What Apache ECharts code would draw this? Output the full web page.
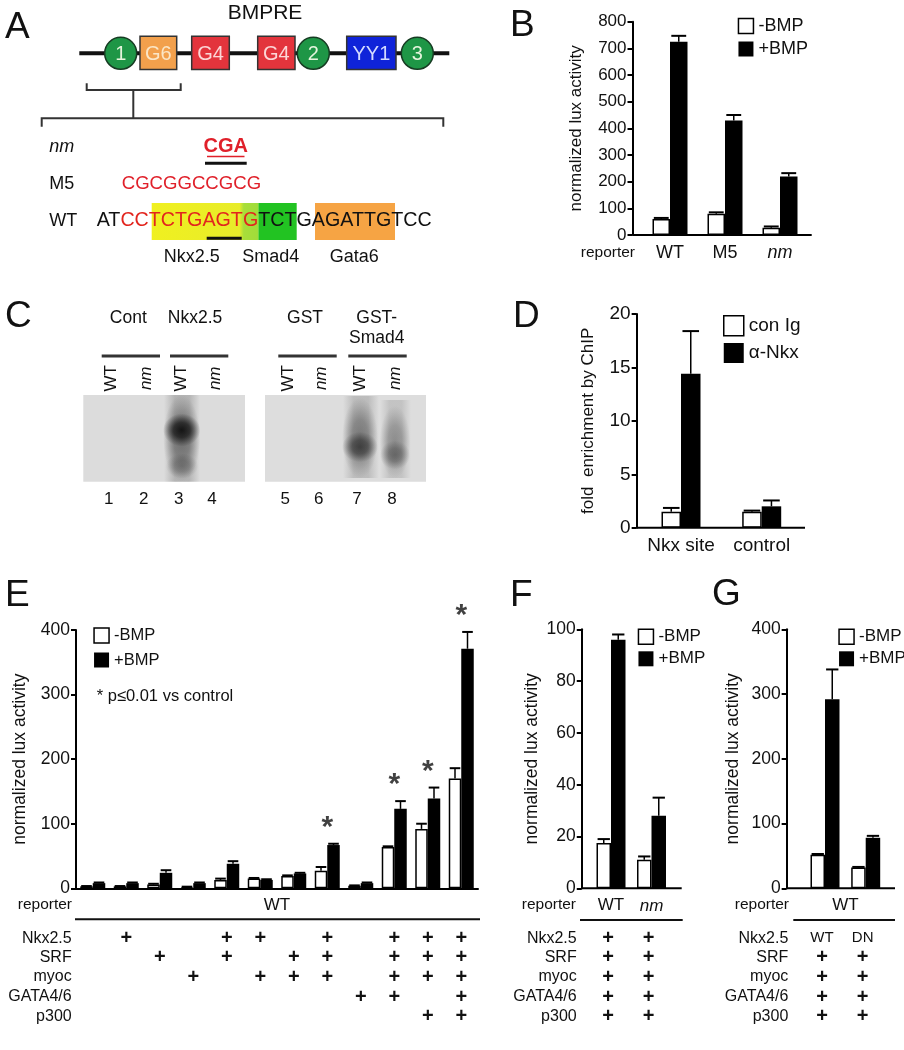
<!DOCTYPE html>
<html><head><meta charset="utf-8">
<script src="https://cdn.jsdelivr.net/npm/echarts@6/dist/echarts.min.js"></script>
<style>html,body{margin:0;padding:0;background:#fff}#c{width:904px;height:1050px}</style>
</head><body><div id="c"></div>
<script>
// ---------- DATA ----------
const legendBMP = ['-BMP', '+BMP'];
// Panel B
const bCategories = ['WT', 'M5', 'nm'];
const bMinus = [60, 80, 27];
const bMinusErr = [4, 5, 5];
const bPlus = [725, 429, 219];
const bPlusErr = [22, 21, 13];
const bTicks = { max: 800, interval: 100 };
// Panel D
const dCategories = ['Nkx site', 'control'];
const dLegend = ['con Ig', 'α-Nkx'];
const dConIg = [1.5, 1.5];
const dConIgErr = [0.35, 0.1];
const dNkx = [14.4, 2.0];
const dNkxErr = [4.0, 0.55];
const dTicks = { max: 20, interval: 5 };
// Panel E
const eGroups = ['1','2','3','4','5','6','7','8','9','10','11','12'];
const eMinus = [3, 3, 6, 2, 13, 15, 19, 27, 4, 64, 92, 170];
const eMinusErr = [0.5, 0.5, 1, 0.5, 2, 1, 1, 6, 0.5, 1, 8, 16];
const ePlus = [8, 8, 24, 8, 38, 13, 23, 67, 8, 123, 139, 371];
const ePlusErr = [1, 1, 4, 1, 4, 1, 1, 2, 1, 12, 17, 26];
const eSignificant = [0, 0, 0, 0, 0, 0, 0, 1, 0, 1, 1, 1];
const eTicks = { max: 400, interval: 100 };
const tableRows = ['Nkx2.5', 'SRF', 'myoc', 'GATA4/6', 'p300'];
const eTable = [
  [0,1,0,0,1,1,0,1,0,1,1,1],
  [0,0,1,0,1,0,1,1,0,1,1,1],
  [0,0,0,1,0,1,1,1,0,1,1,1],
  [0,0,0,0,0,0,0,0,1,1,0,1],
  [0,0,0,0,0,0,0,0,0,0,1,1]
];
// Panel F
const fCategories = ['WT', 'nm'];
const fMinus = [17.5, 11];
const fMinusErr = [1.5, 1.3];
const fPlus = [96, 28];
const fPlusErr = [2, 7];
const fTicks = { max: 100, interval: 20 };
const fTable = [['+','+'],['+','+'],['+','+'],['+','+'],['+','+']];
// Panel G
const gCategories = ['WT', 'DN'];
const gMinus = [52, 32];
const gMinusErr = [1, 1];
const gPlus = [292, 78];
const gPlusErr = [46, 3];
const gTicks = { max: 400, interval: 100 };
const gTable = [['WT','DN'],['+','+'],['+','+'],['+','+'],['+','+']];
// Panel C (gel labels)
const gelHeaders = ['Cont', 'Nkx2.5', 'GST', 'GST-\nSmad4'];
const gelLanes = ['WT', 'nm', 'WT', 'nm', 'WT', 'nm', 'WT', 'nm'];
const gelNumbers = ['1','2','3','4','5','6','7','8'];
// Panel A (sequence)
const seqNm = 'CGA';
const seqM5 = 'CGCGGCCGCG';
const seqWTParts = [['AT','k'],['CC','r'],['TCTGAGTG','r'],['TCT','k'],['G','k'],['AGATTG','k'],['TCC','k']];
const siteLabels = ['Nkx2.5', 'Smad4', 'Gata6'];
const elementLabels = ['1','G6','G4','G4','2','YY1','3'];

// ---------- STYLE ----------
const FONT = '"Liberation Sans", Arial, Helvetica, sans-serif';
const TXT = '#111';
const chart = echarts.init(document.getElementById('c'), null, { renderer: 'canvas' });

function xCat(gi, data, showLabel, fs) {
  return {
    type: 'category', gridIndex: gi, data: data,
    axisLine: { show: gi === 2, lineStyle: { color: '#000', width: 2 } },
    axisTick: { show: false },
    axisLabel: {
      show: showLabel, fontSize: fs, fontFamily: FONT, color: TXT, margin: 9, interval: 0,
      formatter: v => v === 'nm' ? '{i|nm}' : v,
      rich: { i: { fontStyle: 'italic', fontSize: fs, fontFamily: FONT, color: TXT } }
    }
  };
}
function yVal(gi, t, name, nameGap, offset, fs, nfs) {
  return {
    type: 'value', gridIndex: gi, min: 0, max: t.max, interval: t.interval, offset: offset,
    axisLine: { show: true, lineStyle: { color: '#000', width: 2 } },
    axisTick: { show: true, length: 5, inside: false, lineStyle: { color: '#000', width: 2 } },
    splitLine: { show: false },
    axisLabel: { fontSize: fs, fontFamily: FONT, color: TXT, margin: 6 },
    name: name, nameLocation: 'middle', nameRotate: 90, nameGap: nameGap,
    nameTextStyle: { fontSize: nfs, fontFamily: FONT, color: TXT }
  };
}
function bar(gi, name, data, bw, white) {
  return {
    type: 'bar', name: name, xAxisIndex: gi, yAxisIndex: gi, data: data,
    barWidth: bw, barGap: '0%', silent: true, z: 2,
    itemStyle: white ? { color: '#fff', borderColor: '#000', borderWidth: 1.5 } : { color: '#000' }
  };
}
function err(gi, vals, errs, side, bw) {
  return {
    type: 'custom', xAxisIndex: gi, yAxisIndex: gi, silent: true, z: 5,
    data: vals.map((v, i) => [i, v, errs[i]]),
    renderItem: (p, api) => {
      const i = api.value(0), v = api.value(1), e = api.value(2);
      const base = api.coord([i, v]);
      const top = api.coord([i, v + e]);
      const x = base[0] + side * bw / 2;
      const cap = bw * 0.85;
      return { type: 'group', children: [
        { type: 'line', shape: { x1: x, y1: base[1], x2: x, y2: top[1] }, style: { stroke: '#000', lineWidth: 1.5 } },
        { type: 'line', shape: { x1: x - cap / 2, y1: top[1], x2: x + cap / 2, y2: top[1] }, style: { stroke: '#000', lineWidth: 2 } }
      ]};
    }
  };
}
function legend(names, left, top, size, gap, fs) {
  return {
    data: names.map((n, k) => ({ name: n, itemStyle: k === 0 ? { color: '#fff', borderColor: '#000', borderWidth: 1.5 } : { color: '#000', borderWidth: 0 } })),
    left: left, top: top, orient: 'vertical', itemWidth: size, itemHeight: size, itemGap: gap,
    icon: 'rect', selectedMode: false, padding: 0,
    textStyle: { fontSize: fs, fontFamily: FONT, color: TXT }
  };
}

const option = {
  animation: false,
  grid: [
    { left: 642.5, top: 21.7, width: 165, height: 213.3, outerBoundsMode: 'none' },
    { left: 640.65, top: 314, width: 161.4, height: 213.7, outerBoundsMode: 'none' },
    { left: 76, top: 630, width: 402, height: 258.3, outerBoundsMode: 'none' },
    { left: 590.75, top: 629.3, width: 81, height: 259, outerBoundsMode: 'none' },
    { left: 804.65, top: 629.3, width: 81.4, height: 259, outerBoundsMode: 'none' }
  ],
  xAxis: [
    xCat(0, bCategories, true, 18),
    xCat(1, dCategories, true, 19),
    xCat(2, eGroups, false, 17),
    xCat(3, fCategories, true, 17),
    xCat(4, gCategories, false, 17)
  ],
  yAxis: [
    yVal(0, bTicks, 'normalized lux activity', 48, 10, 17, 17),
    yVal(1, dTicks, 'fold  enrichment by ChIP', 40, 4, 19, 17),
    yVal(2, eTicks, 'normalized lux activity', 47, 0, 17.5, 17.5),
    yVal(3, fTicks, 'normalized lux activity', 41, 9, 17.5, 17.5),
    yVal(4, gTicks, 'normalized lux activity', 44, 18, 17.5, 17.5)
  ],
  legend: [
    legend(legendBMP, 737.7, 17, 15, 5, 18),
    legend(dLegend, 723, 315, 20, 6.5, 19),
    legend(legendBMP, 93.3, 627, 15, 7.5, 16.5),
    legend(legendBMP, 637.7, 628.3, 15, 5, 17),
    legend(legendBMP, 838.3, 628.3, 15, 5, 17)
  ],
  series: [
    bar(0, '-BMP', bMinus, 17.5, true), bar(0, '+BMP', bPlus, 17.5, false),
    err(0, bMinus, bMinusErr, -1, 17.5), err(0, bPlus, bPlusErr, 1, 17.5),
    bar(1, 'con Ig', dConIg, 19.5, true), bar(1, 'α-Nkx', dNkx, 19.5, false),
    err(1, dConIg, dConIgErr, -1, 19.5), err(1, dNkx, dNkxErr, 1, 19.5),
    bar(2, '-BMP', eMinus, 12.5, true), bar(2, '+BMP', ePlus, 12.5, false),
    err(2, eMinus, eMinusErr, -1, 12.5), err(2, ePlus, ePlusErr, 1, 12.5),
    {
      type: 'scatter', xAxisIndex: 2, yAxisIndex: 2, silent: true, z: 6,
      symbolSize: 2, itemStyle: { color: 'rgba(0,0,0,0)' },
      data: eSignificant.map((s, i) => s ? [i, ePlus[i] + ePlusErr[i]] : null).filter(d => d),
      label: { show: true, formatter: '*', position: 'top', distance: 0, fontSize: 30, fontWeight: 'bold', fontFamily: FONT, color: '#111' }
    },
    bar(3, '-BMP', fMinus, 14.5, true), bar(3, '+BMP', fPlus, 14.5, false),
    err(3, fMinus, fMinusErr, -1, 14.5), err(3, fPlus, fPlusErr, 1, 14.5),
    bar(4, '-BMP', gMinus, 14.5, true), bar(4, '+BMP', gPlus, 14.5, false),
    err(4, gMinus, gMinusErr, -1, 14.5), err(4, gPlus, gPlusErr, 1, 14.5)
  ]
};
chart.setOption(option);

// ---------- GRAPHICS ----------
const G = [];
function txt(x, y, s, opt) {
  opt = opt || {};
  G.push({ type: 'text', x: x, y: y, rotation: opt.rot || 0, z: opt.z || 10, silent: true,
    style: { text: s, fill: opt.fill || TXT, fontSize: opt.fs || 16, fontFamily: FONT,
      fontWeight: opt.fw || 'normal', fontStyle: opt.it ? 'italic' : 'normal',
      align: opt.align || 'center', verticalAlign: opt.va || 'middle', rich: opt.rich, lineHeight: opt.lh } });
}
function ln(x1, y1, x2, y2, w, c, z) {
  G.push({ type: 'line', silent: true, z: z || 10, shape: { x1, y1, x2, y2 }, style: { stroke: c || '#000', lineWidth: w || 2 } });
}
function rect(x, y, w, h, fill, stroke, z) {
  G.push({ type: 'rect', silent: true, z: z || 5, shape: { x, y, width: w, height: h }, style: { fill: fill, stroke: stroke || null, lineWidth: stroke ? 1.5 : 0 } });
}
function blob(x, y, r, sx, sy, rgb, a, z) {
  G.push({ type: 'circle', silent: true, z: z || 7, x: x, y: y, scaleX: sx, scaleY: sy, shape: { cx: 0, cy: 0, r: r },
    style: { fill: { type: 'radial', x: 0.5, y: 0.5, r: 0.5, colorStops: [
      { offset: 0, color: 'rgba(' + rgb + ',' + a + ')' },
      { offset: 0.45, color: 'rgba(' + rgb + ',' + (a * 0.75) + ')' },
      { offset: 0.8, color: 'rgba(' + rgb + ',' + (a * 0.25) + ')' },
      { offset: 1, color: 'rgba(' + rgb + ',0)' }] } } });
}
function smear(x, y, w, h, a, z) {
  G.push({ type: 'rect', silent: true, z: z || 6, shape: { x, y, width: w, height: h },
    style: { fill: { type: 'linear', x: 0, y: 0, x2: 1, y2: 0, colorStops: [
      { offset: 0, color: 'rgba(40,40,40,0)' }, { offset: 0.3, color: 'rgba(40,40,40,' + a + ')' },
      { offset: 0.7, color: 'rgba(40,40,40,' + a + ')' }, { offset: 1, color: 'rgba(40,40,40,0)' }] } } });
}

// panel letters
const letters = [['A', 5, 27.5], ['B', 510, 26], ['C', 5, 316.7], ['D', 513, 316.7], ['E', 5, 596], ['F', 510, 596], ['G', 712, 595]];
letters.forEach(l => txt(l[1], l[2], l[0], { fs: 37, align: 'left', fill: '#111' }));

// ----- Panel A -----
txt(265, 13.5, 'BMPRE', { fs: 21 });
ln(79.3, 53.3, 449.3, 53.3, 4, '#111', 4);
const circX = { '1': 120.7, '2': 313.3, '3': 417.3 };
const boxes = [[140, 36.7, 'G6', '#f2a04c', '#fbe6c6'], [191.7, 37.6, 'G4', '#e3343c', '#fcd6d6'], [257.7, 37.3, 'G4', '#e3343c', '#fcd6d6'], [346.7, 49.3, 'YY1', '#0f23d9', '#d4dbff']];
let bi = 0;
elementLabels.forEach(lab => {
  if (circX[lab] !== undefined) {
    G.push({ type: 'circle', silent: true, z: 6, shape: { cx: circX[lab], cy: 53.3, r: 16 }, style: { fill: '#1e9646', stroke: '#163b22', lineWidth: 1.5 } });
    txt(circX[lab], 54, lab, { fs: 20, fill: '#e4f4dc', z: 7 });
  } else {
    const b = boxes[bi++];
    rect(b[0], 36.2, b[1], 33.3, b[3], '#333', 6);
    txt(b[0] + b[1] / 2, 54, lab, { fs: 20, fill: b[4], z: 7 });
  }
});
G.push({ type: 'polyline', silent: true, z: 5, shape: { points: [[86.7, 83.3], [86.7, 90], [180.7, 90], [180.7, 83.3]] }, style: { stroke: '#333', lineWidth: 2, fill: null } });
ln(133.3, 90, 133.3, 118.3, 2, '#333', 5);
G.push({ type: 'polyline', silent: true, z: 5, shape: { points: [[41.7, 126.7], [41.7, 118.3], [443.3, 118.3], [443.3, 126.7]] }, style: { stroke: '#333', lineWidth: 2, fill: null } });
txt(49.3, 146.7, 'nm', { fs: 18, align: 'left', it: true });
txt(225.7, 146.7, seqNm, { fs: 20, fw: 'bold', fill: '#e0202a' });
ln(207, 156.5, 244.5, 156.5, 1.5, '#e0202a');
ln(205, 163.3, 246.7, 163.3, 3, '#111');
txt(49.3, 184.3, 'M5', { fs: 18, align: 'left' });
txt(121.7, 184.3, seqM5, { fs: 18.6, align: 'left', fill: '#e0202a' });
txt(49.3, 221, 'WT', { fs: 18, align: 'left' });
// highlights
G.push({ type: 'rect', silent: true, z: 4, shape: { x: 151.7, y: 203, width: 107, height: 37 },
  style: { fill: { type: 'linear', x: 0, y: 0, x2: 1, y2: 0, colorStops: [{ offset: 0, color: '#f0f020' }, { offset: 0.82, color: '#e8ec2a' }, { offset: 0.86, color: '#a8de3a' }, { offset: 1, color: '#a0dc3a' }] } } });
rect(258.5, 203, 38.2, 37, '#22c322', null, 4);
rect(315, 203, 80, 37, '#f6a444', null, 4);
const richSeq = { k: { fill: '#111', fontSize: 19.7, fontFamily: FONT }, r: { fill: '#e2251e', fontSize: 19.7, fontFamily: FONT } };
txt(96.7, 221, seqWTParts.map(p => '{' + p[1] + '|' + p[0] + '}').join(''), { fs: 19.7, align: 'left', rich: richSeq, z: 8 });
ln(206.7, 238.3, 241.7, 238.3, 3, '#111', 9);
txt(191.7, 256.7, siteLabels[0], { fs: 18 });
txt(270.7, 256.7, siteLabels[1], { fs: 18 });
txt(354.3, 256.7, siteLabels[2], { fs: 18 });

// ----- Panel C -----
const hdrX = [128.3, 195, 305, 376.7];
gelHeaders.forEach((h, k) => txt(hdrX[k], k === 3 ? 328.3 : 318.3, h, { fs: 17.5, lh: 20 }));
[[101.7, 160], [170, 228.3], [278.3, 336.7], [348.3, 406.7]].forEach(s => ln(s[0], 356, s[1], 356, 3, '#333'));
const laneX = [111.7, 146.7, 181.7, 215, 288.3, 321.7, 360, 395];
gelLanes.forEach((l, k) => txt(laneX[k], 378.3, l, { fs: 17, rot: Math.PI / 2, it: l === 'nm' }));
rect(83.3, 395, 161.7, 86.7, '#dcdcdc', null, 4);
rect(265, 395, 161, 86.7, '#dddddd', null, 4);
// gel signal (soft, diffuse bands)
smear(164, 395, 36, 86.7, 0.22);
blob(181.7, 438, 30, 0.62, 1.45, '50,50,50', 0.55);
blob(181.7, 430, 22, 0.85, 0.75, '10,10,10', 0.9);
blob(182, 466, 18, 0.9, 0.7, '40,40,40', 0.35);
smear(343, 396, 36, 82, 0.18);
blob(360, 438, 30, 0.6, 1.35, '50,50,50', 0.5);
blob(360, 447, 19, 0.95, 0.8, '20,20,20', 0.6);
smear(380, 400, 31, 78, 0.14);
blob(395, 442, 28, 0.55, 1.3, '50,50,50', 0.38);
blob(395, 455, 16, 0.95, 0.9, '30,30,30', 0.4);
gelNumbers.forEach((n, k) => txt(laneX[k] - 3, 499.3, n, { fs: 17 }));

// ----- axis baselines -----
ln(632.7, 235, 811.7, 235, 2, '#000', 3);
ln(636.7, 527.7, 805, 527.7, 2, '#000', 3);
ln(581.7, 888.3, 681.7, 888.3, 2, '#000', 3);
ln(786.7, 888.3, 895, 888.3, 2, '#000', 3);

// reporter labels
txt(635, 253, 'reporter', { fs: 15.5, align: 'right' });
txt(72, 905, 'reporter', { fs: 15.5, align: 'right' });
txt(576, 905, 'reporter', { fs: 15.5, align: 'right' });
txt(789, 905, 'reporter', { fs: 15.5, align: 'right' });

// E extras
txt(96.7, 696, '* p≤0.01 vs control', { fs: 16.5, align: 'left' });
const rowsY = [938.3, 957.5, 977, 997, 1016.7];
const eX = eGroups.map(g => chart.convertToPixel({ xAxisIndex: 2 }, g));
txt((eX[0] + eX[11]) / 2, 905, 'WT', { fs: 17 });
ln(75, 919.3, 480, 919.3, 2, '#111');
tableRows.forEach((r, ri) => {
  txt(71.7, rowsY[ri], r, { fs: 16, align: 'right' });
  eTable[ri].forEach((v, gi) => { if (v) txt(eX[gi], rowsY[ri], '+', { fs: 20, fw: 'bold' }); });
});
// F table
const fX = fCategories.map(c => chart.convertToPixel({ xAxisIndex: 3 }, c));
ln(580, 920, 682.7, 920, 2, '#111');
tableRows.forEach((r, ri) => {
  txt(576.7, rowsY[ri], r, { fs: 16, align: 'right' });
  fTable[ri].forEach((v, k) => txt(fX[k] - 3, rowsY[ri], v, { fs: 20, fw: 'bold' }));
});
// G table
const gX = gCategories.map(c => chart.convertToPixel({ xAxisIndex: 4 }, c));
txt((gX[0] + gX[1]) / 2, 905, 'WT', { fs: 17 });
ln(793.3, 920, 895, 920, 2, '#111');
tableRows.forEach((r, ri) => {
  txt(788.3, rowsY[ri], r, { fs: 16, align: 'right' });
  gTable[ri].forEach((v, k) => txt(gX[k] - 3, rowsY[ri], v, v === '+' ? { fs: 20, fw: 'bold' } : { fs: 15 }));
});

chart.setOption({ graphic: { elements: G } });
</script>
</body></html>
